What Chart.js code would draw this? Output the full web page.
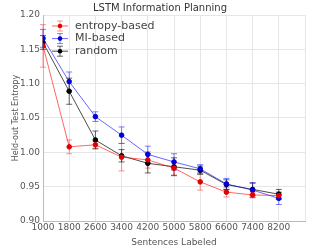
<!DOCTYPE html>
<html>
<head>
<meta charset="utf-8">
<script src="https://cdn.jsdelivr.net/npm/chart.js@4"></script>
<style>
  html, body { margin: 0; padding: 0; background: #fff; }
  #wrap { width: 310px; height: 248px; }
</style>
</head>
<body>
<div id="wrap"><canvas id="myChart" width="310" height="248"></canvas></div>
<script>
var ctx = document.getElementById('myChart').getContext('2d');

// sentences labeled
const sentences = [1000, 1800, 2600, 3400, 4200, 5000, 5800, 6600, 7400, 8200];
// held-out test entropy
const entropyBased = [1.155, 1.008, 1.011, 0.993, 0.989, 0.977, 0.957, 0.942, 0.938, 0.937];
const entropyErr   = [0.031, 0.010, 0.005, 0.020, 0.012, 0.010, 0.012, 0.007, 0.004, 0.005];
const miBased      = [1.166, 1.103, 1.052, 1.025, 0.997, 0.986, 0.976, 0.954, 0.945, 0.933];
const miErr        = [0.013, 0.014, 0.007, 0.012, 0.012, 0.012, 0.006, 0.008, 0.011, 0.009];
const randomSel    = [1.160, 1.089, 1.018, 0.995, 0.984, 0.979, 0.974, 0.953, 0.946, 0.939];
const randomErr    = [0.010, 0.019, 0.013, 0.009, 0.014, 0.013, 0.006, 0.007, 0.009, 0.007];
const yTicks = [0.90, 0.95, 1.00, 1.05, 1.10, 1.15, 1.20];

const seriesNames = ['entropy-based', 'MI-based', 'random'];
const lineColors = ['rgba(255,0,0,0.6)', 'rgba(0,0,255,0.6)', 'rgba(0,0,0,0.7)'];
const markColors = ['#e00000', '#0000dd', '#000000'];
const errColors = ['rgba(255,60,60,0.55)', 'rgba(40,40,255,0.6)', 'rgba(0,0,0,0.6)'];
const errs = [entropyErr, miErr, randomErr];

function pts(vals) {
  return sentences.map(function (s, i) { return { x: s, y: vals[i] }; });
}

// error bars drawn through the scales
const errorBars = {
  id: 'errorBars',
  beforeDatasetsDraw: function (chart) {
    const c = chart.ctx, xs = chart.scales.x, ys = chart.scales.y;
    c.save();
    chart.data.datasets.forEach(function (ds, d) {
      c.strokeStyle = errColors[d];
      c.lineWidth = 1;
      ds.data.forEach(function (p, i) {
        const px = xs.getPixelForValue(p.x);
        const y1 = ys.getPixelForValue(p.y + errs[d][i]);
        const y2 = ys.getPixelForValue(p.y - errs[d][i]);
        c.beginPath();
        c.moveTo(px, y1); c.lineTo(px, y2);
        c.moveTo(px - 3, y1); c.lineTo(px + 3, y1);
        c.moveTo(px - 3, y2); c.lineTo(px + 3, y2);
        c.stroke();
      });
    });
    c.restore();
  },
  afterDraw: function (chart) {
    // legend, matplotlib style
    const c = chart.ctx;
    c.save();
    c.font = '11px "DejaVu Sans"';
    c.textBaseline = 'middle';
    seriesNames.forEach(function (name, d) {
      const y = 26 + d * 12.6;
      c.strokeStyle = lineColors[d];
      c.lineWidth = 1;
      c.beginPath(); c.moveTo(52, y); c.lineTo(68, y); c.stroke();
      c.strokeStyle = errColors[d];
      c.beginPath();
      c.moveTo(60, y - 5); c.lineTo(60, y + 5);
      c.moveTo(57, y - 5); c.lineTo(63, y - 5);
      c.moveTo(57, y + 5); c.lineTo(63, y + 5);
      c.stroke();
      c.fillStyle = markColors[d];
      c.beginPath(); c.arc(60, y, 2.3, 0, Math.PI * 2); c.fill();
      c.fillStyle = '#444';
      c.fillText(name, 75, y);
    });
    c.restore();
  }
};

var myChart = new Chart(ctx, {
    type: 'line',
    data: {
        datasets: [0, 1, 2].map(function (d) {
            return {
                label: seriesNames[d],
                data: pts([entropyBased, miBased, randomSel][d]),
                borderColor: lineColors[d],
                backgroundColor: markColors[d],
                pointBackgroundColor: markColors[d],
                pointBorderColor: markColors[d],
                pointRadius: 2.3,
                borderWidth: 1,
                tension: 0
            };
        })
    },
    options: {
        responsive: false,
        animation: false,
        layout: { padding: { top: 1, right: 1, left: 11, bottom: 0 } },
        plugins: {
            legend: { display: false },
            tooltip: { enabled: false },
            title: {
                display: true,
                text: 'LSTM Information Planning',
                color: '#333',
                font: { family: 'DejaVu Sans', size: 10, weight: 'normal' },
                padding: { top: 1, bottom: 1 }
            }
        },
        scales: {
            x: {
                type: 'linear',
                min: 1000,
                max: 9000,
                afterBuildTicks: function (axis) {
                    axis.ticks = sentences.concat([9000]).map(function (v) { return { value: v }; });
                },
                afterFit: function (axis) { axis.height = 27; },
                ticks: {
                    autoSkip: false,
                    maxRotation: 0,
                    padding: 1,
                    color: '#555',
                    font: { family: 'DejaVu Sans', size: 9 },
                    callback: function (v) { return v === 9000 ? '' : String(v); }
                },
                grid: { color: '#e6e6e6', drawTicks: false },
                border: { color: '#bbb' },
                title: {
                    display: true,
                    text: 'Sentences Labeled',
                    color: '#555',
                    font: { family: 'DejaVu Sans', size: 9 },
                    padding: { top: 1, bottom: 0 }
                }
            },
            y: {
                min: 0.90,
                max: 1.20,
                afterBuildTicks: function (axis) {
                    axis.ticks = yTicks.map(function (v) { return { value: v }; });
                },
                afterFit: function (axis) { axis.width = 32; },
                ticks: {
                    padding: 3,
                    color: '#555',
                    font: { family: 'DejaVu Sans', size: 9 },
                    callback: function (v) { return v.toFixed(2); }
                },
                grid: { color: '#e6e6e6', drawTicks: false },
                border: { color: '#bbb' },
                title: {
                    display: true,
                    text: 'Held-out Test Entropy',
                    color: '#555',
                    font: { family: 'DejaVu Sans', size: 8 },
                    padding: { top: 0, bottom: 0 }
                }
            }
        }
    },
    plugins: [errorBars]
});
</script>
</body>
</html>
